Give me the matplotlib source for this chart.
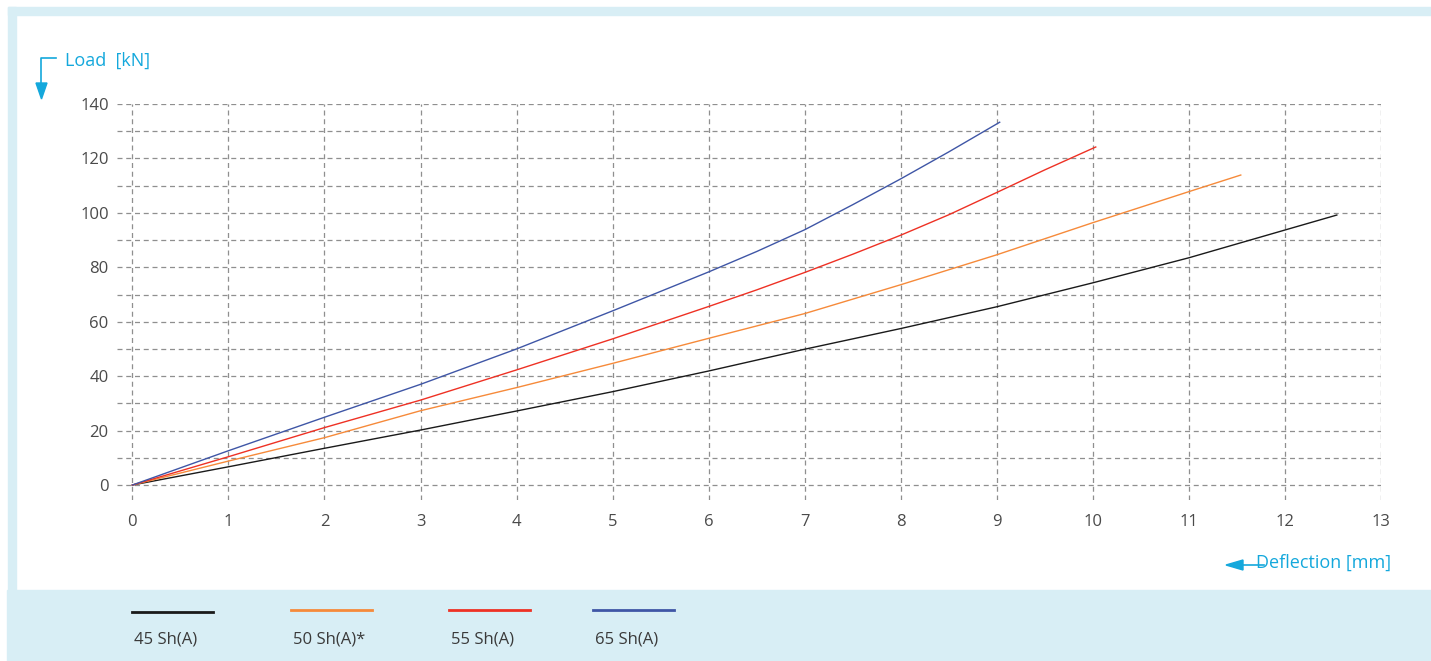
import matplotlib.pyplot as plt
from matplotlib.patches import Rectangle, Polygon
from matplotlib.lines import Line2D

plt.rcParams['font.family'] = ['Open Sans', 'DejaVu Sans']

# deflection [mm] / load [kN] for each hardness
x_45 = [0, 1, 2, 3, 4, 5, 6, 7, 8, 9, 10, 11, 12, 12.54]
y_45 = [0, 6.7, 13.5, 20.2, 27.2, 34.3, 41.9, 49.9, 57.5, 65.5, 74.3, 83.5, 93.7, 99.2]

x_50 = [0, 1, 2, 3, 4, 5, 6, 7, 8, 9, 10, 11, 11.54]
y_50 = [0, 8.8, 17.4, 27.3, 35.8, 44.7, 53.9, 63.0, 73.6, 84.6, 96.4, 107.8, 113.9]

x_55 = [0, 1, 2, 3, 4, 5, 6, 6.5, 7, 7.5, 8, 8.5, 9, 9.5, 10.03]
y_55 = [0, 10.4, 21.1, 31.2, 42.3, 53.7, 65.6, 71.7, 78.1, 84.8, 91.8, 99.3, 107.5, 115.8, 124.2]

x_65 = [0, 1, 2, 3, 4, 5, 6, 6.5, 7, 7.5, 8, 8.5, 9.03]
y_65 = [0, 12.6, 24.9, 37.0, 50.0, 64.0, 78.3, 85.8, 93.8, 103.0, 112.5, 122.4, 133.3]

labels = ['45 Sh(A)', '50 Sh(A)*', '55 Sh(A)', '65 Sh(A)']
colors = ['#1a1a1a', '#f68a3a', '#ee3124', '#3f56a6']
series = [(x_45, y_45), (x_50, y_50), (x_55, y_55), (x_65, y_65)]

W, H = 1431, 661
fig = plt.figure(figsize=(W / 100, H / 100), dpi=100)
fig.patch.set_facecolor('white')

frame = '#d8eef5'
cyan = '#14a8dc'

def px_rect(x0, y0, x1, y1):
    # rectangle given in pixel coordinates (origin top-left)
    fig.patches.append(Rectangle((x0 / W, 1 - y1 / H), (x1 - x0) / W, (y1 - y0) / H,
                                 transform=fig.transFigure, color=frame, zorder=0))

px_rect(8, 7, W, 15)
px_rect(8, 7, 16, 590)
px_rect(7, 590, W, H)

ax = fig.add_axes([117 / W, 1 - 500 / H, (1381 - 117) / W, (500 - 104) / H])
ax.set_xlim(-0.16, 13)
ax.set_ylim(-5.5, 140)

for (xs, ys), c in zip(series, colors):
    ax.plot(xs, ys, color=c, lw=1.0, zorder=3, solid_joinstyle='round')

ax.set_xticks(range(0, 14))
ax.set_yticks(range(0, 141, 20))
ax.set_yticks(range(10, 140, 20), minor=True)
ax.grid(True, which='both', color='#8f8f8f', lw=0.9, linestyle=(0, (4, 3)))
ax.tick_params(which='both', length=0, colors='#4a4a4a', labelsize=12)
ax.tick_params(axis='x', pad=10)
ax.tick_params(axis='y', pad=6)
for s in ax.spines.values():
    s.set_visible(False)

# axis captions with arrows
fig.text(65 / W, 1 - 61 / H, 'Load  [kN]', color=cyan, fontsize=13, va='center', ha='left')
fig.lines.append(Line2D([56 / W, 41 / W, 41 / W], [1 - 58 / H, 1 - 58 / H, 1 - 85 / H],
                        transform=fig.transFigure, color=cyan, lw=1.2))
fig.patches.append(Polygon([(36 / W, 1 - 83 / H), (47 / W, 1 - 83 / H), (41.5 / W, 1 - 99 / H)],
                           closed=True, transform=fig.transFigure, color=cyan))

fig.text(1256 / W, 1 - 563 / H, 'Deflection [mm]', color=cyan, fontsize=13, va='center', ha='left')
fig.lines.append(Line2D([1240 / W, 1264 / W], [1 - 565 / H, 1 - 565 / H],
                        transform=fig.transFigure, color=cyan, lw=1.2))
fig.patches.append(Polygon([(1226 / W, 1 - 565 / H), (1243 / W, 1 - 560 / H), (1243 / W, 1 - 570 / H)],
                           closed=True, transform=fig.transFigure, color=cyan))

# legend
leg_x = [132, 291, 449, 593]
for lx, c, lab in zip(leg_x, colors, labels):
    ly = 612 if lab.startswith('45') else 610
    fig.lines.append(Line2D([lx / W, (lx + 81) / W], [1 - ly / H, 1 - ly / H],
                            transform=fig.transFigure, color=c, lw=2.0))
    fig.text((lx + 2) / W, 1 - 639 / H, lab, color='#3a3a3a', fontsize=12, va='center', ha='left')

fig.savefig('out.png', dpi=100)
